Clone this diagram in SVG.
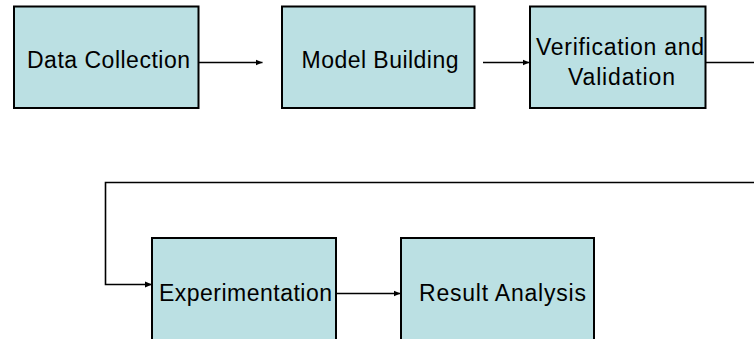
<svg xmlns="http://www.w3.org/2000/svg" width="754" height="339" viewBox="0 0 754 339">
<style>
.box{fill:#BBE0E3;stroke:#000;stroke-width:2}
.lbl{font-family:"Liberation Sans",Arial,sans-serif;font-size:23px;fill:#000}
.conn{fill:none;stroke:#000;stroke-width:1.6}
</style>
<defs>
<marker id="ah" markerUnits="userSpaceOnUse" markerWidth="8" markerHeight="8" refX="7" refY="3.5" orient="auto">
<path d="M0,0.5 L7,3.5 L0,6.5 Z" fill="#000"/>
</marker>
</defs>
<rect width="754" height="339" fill="#fff"/>
<g id="connectors">
<line class="conn" x1="198.5" y1="62.5" x2="262.5" y2="62.5" marker-end="url(#ah)"/>
<line class="conn" x1="483" y1="62.5" x2="529.5" y2="62.5" marker-end="url(#ah)"/>
<polyline class="conn" points="705.5,62.5 760,62.5 760,182.5 105.5,182.5 105.5,284.5 152,284.5" marker-end="url(#ah)"/>
<line class="conn" x1="336" y1="293.5" x2="400.5" y2="293.5" marker-end="url(#ah)"/>
</g>
<g id="data-collection">
<rect class="box" x="14" y="6.5" width="184.5" height="101.5"/>
<text class="lbl" x="27" y="68" textLength="163" lengthAdjust="spacing">Data Collection</text>
</g>
<g id="model-building">
<rect class="box" x="282" y="6.5" width="192.5" height="101.5"/>
<text class="lbl" x="301.5" y="68" textLength="157" lengthAdjust="spacing">Model Building</text>
</g>
<g id="verification-validation">
<rect class="box" x="530" y="6.5" width="175.5" height="101.5"/>
<text class="lbl" x="536" y="54.5" textLength="168" lengthAdjust="spacing">Verification and</text>
<text class="lbl" x="568" y="84.5" textLength="107" lengthAdjust="spacing">Validation</text>
</g>
<g id="experimentation">
<rect class="box" x="152" y="238" width="184" height="110"/>
<text class="lbl" x="159" y="301" textLength="173" lengthAdjust="spacing">Experimentation</text>
</g>
<g id="result-analysis">
<rect class="box" x="401" y="238" width="193" height="110"/>
<text class="lbl" x="419" y="301" textLength="167" lengthAdjust="spacing">Result Analysis</text>
</g>
</svg>
